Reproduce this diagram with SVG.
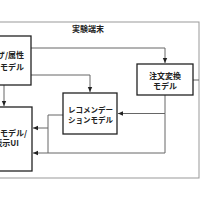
<svg xmlns="http://www.w3.org/2000/svg" width="200" height="200" viewBox="0 0 200 200">
<style>
.box{fill:#fff;stroke:#222;stroke-width:1.3}
.frame{fill:none;stroke:#999;stroke-width:1}
.c{fill:none;stroke:#666;stroke-width:1}
.t{font-family:"Noto Sans CJK JP","Liberation Sans",sans-serif;font-size:8px;font-weight:bold;fill:#222}
.s{font-size:7.5px}
</style>
<defs>
<marker id="ah" markerWidth="6" markerHeight="6" refX="5" refY="3" orient="auto" markerUnits="userSpaceOnUse">
<path d="M0,0.8 L5,3 L0,5.2 Z" fill="#222"/>
</marker>
</defs>
<rect width="200" height="200" fill="#fff"/>
<g id="frame">
<rect class="frame" x="-10" y="22" width="209" height="156"/>
<text class="t" x="88" y="32" text-anchor="middle">実験端末</text>
</g>
<g id="connectors">
<path class="c" d="M31,48 H165 V63" marker-end="url(#ah)"/>
<path class="c" d="M31,75 H90 V92" marker-end="url(#ah)"/>
<path class="c" d="M4,85 V106" marker-end="url(#ah)"/>
<path class="c" d="M165,95 V113.5 H118" marker-end="url(#ah)"/>
<path class="c" d="M165,113.5 V153 H33" marker-end="url(#ah)"/>
<path class="c" d="M63,115 H48 V128 H33" marker-end="url(#ah)"/>
<path class="c" d="M48,128 V153"/>
<path class="c" d="M193,80 H199"/>
</g>
<g id="n1">
<rect class="box" x="-20" y="36" width="51" height="49"/>
<text class="t" x="24" y="58" text-anchor="end">ユーザ/属性</text>
<text class="t" x="24" y="70" text-anchor="end">推定モデル</text>
</g>
<g id="n2">
<rect class="box" x="137" y="64" width="56" height="31"/>
<text class="t" x="165" y="79" text-anchor="middle">注文変換</text>
<text class="t" x="165" y="89" text-anchor="middle">モデル</text>
</g>
<g id="n3">
<rect class="box" x="63" y="93" width="54" height="41"/>
<text class="t s" x="90.5" y="112.5" text-anchor="middle">レコメンデー</text>
<text class="t s" x="90.5" y="122.5" text-anchor="middle">ションモデル</text>
</g>
<g id="n4">
<rect class="box" x="-20" y="107" width="52" height="64"/>
<text class="t" x="27" y="136" text-anchor="end">ユーザモデル/</text>
<text class="t" x="19" y="146" text-anchor="end">表示UI</text>
</g>
</svg>
